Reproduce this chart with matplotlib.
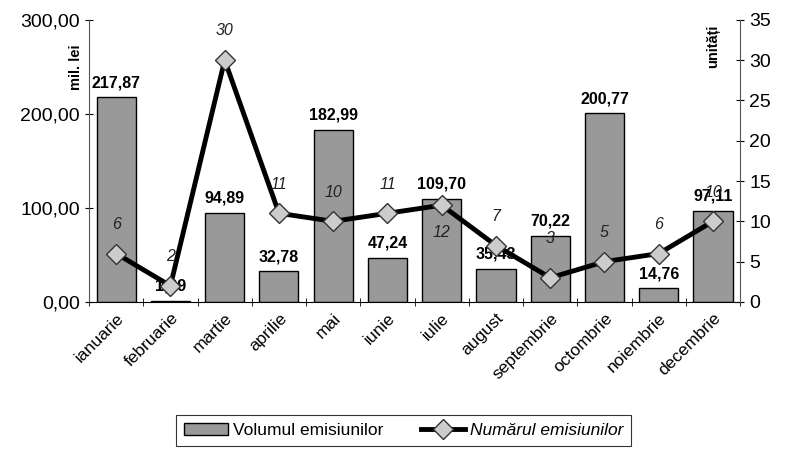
import matplotlib.pyplot as plt
import numpy as np

plt.rcParams['font.family'] = ['Liberation Sans', 'DejaVu Sans']

months = ["ianuarie", "februarie", "martie", "aprilie", "mai", "iunie", "iulie",
          "august", "septembrie", "octombrie", "noiembrie", "decembrie"]
volume = [217.87, 1.29, 94.89, 32.78, 182.99, 47.24, 109.70, 35.43, 70.22, 200.77, 14.76, 97.11]
count = [6, 2, 30, 11, 10, 11, 12, 7, 3, 5, 6, 10]


def ro(v):
    return "{:.2f}".format(v).replace(".", ",")


fig = plt.figure(figsize=(7.95, 4.5), dpi=100)
ax = fig.add_axes([0.112, 0.329, 0.819, 0.627])
ax2 = ax.twinx()

x = np.arange(len(months))
bars = ax.bar(x, volume, width=0.72, color="#999999", edgecolor="black", linewidth=1,
              label="Volumul emisiunilor", zorder=2)
for xi, v in zip(x, volume):
    ax.annotate(ro(v), (xi, v), xytext=(0, 5), textcoords="offset points",
                ha="center", va="bottom", fontsize=11.5, fontweight="bold")

ax.set_xlim(-0.5, len(months) - 0.5)
ax.set_ylim(0, 300)
ax.set_yticks([0, 100, 200, 300])
ax.set_yticklabels([ro(t) for t in [0, 100, 200, 300]], fontsize=14)
ax.set_xticks(x)
ax.set_xticklabels(months, rotation=45, ha="right", rotation_mode="anchor", fontsize=12.5)
ax.tick_params(axis="x", length=0, pad=6)
ax.set_xticks(np.arange(-0.5, len(months)), minor=True)
ax.tick_params(axis="x", which="minor", length=6, direction="inout")
ax.tick_params(axis="y", length=6, direction="inout")
for s in ["top", "right"]:
    ax.spines[s].set_visible(False)
ax.spines["left"].set_color("#555555")

line, = ax2.plot(x, count, color="black", linewidth=3.5, marker="D", markersize=10,
                 markerfacecolor="#cccccc", markeredgecolor="#333333", markeredgewidth=1,
                 label="Numărul emisiunilor", zorder=3)
for i, (xi, c) in enumerate(zip(x, count)):
    dy = -20 if months[i] == "iulie" else (28 if months[i] == "septembrie" else 21)
    ax2.annotate(str(c), (xi, c), xytext=(0, dy), textcoords="offset points",
                 ha="center", va="center", fontsize=11.5, style="italic", color="#222222")
ax2.set_ylim(0, 35)
ax2.set_yticks(range(0, 36, 5))
ax2.tick_params(axis="y", length=6, direction="inout", labelsize=14)
for s in ["top", "left", "bottom"]:
    ax2.spines[s].set_visible(False)
ax2.spines["right"].set_color("#555555")

ax2.set_zorder(ax.get_zorder() + 1)
ax2.patch.set_visible(False)

fig.text(0.095, 0.851, "mil. lei", rotation=90, ha="center", va="center",
         fontsize=10.5, fontweight="bold")
fig.text(0.897, 0.898, "unități", rotation=90, ha="center", va="center",
         fontsize=10.5, fontweight="bold")

leg = fig.legend([bars, line], ["Volumul emisiunilor", "Numărul emisiunilor"],
                 loc="center", bbox_to_anchor=(0.508, 0.044), ncol=2, frameon=True,
                 fancybox=False, edgecolor="black", fontsize=12.5, handlelength=2.5,
                 columnspacing=2.2, borderpad=0.45, handletextpad=0.3)
leg.get_frame().set_linewidth(0.8)
leg.get_texts()[1].set_style("italic")

fig.savefig("out.png", dpi=100)
